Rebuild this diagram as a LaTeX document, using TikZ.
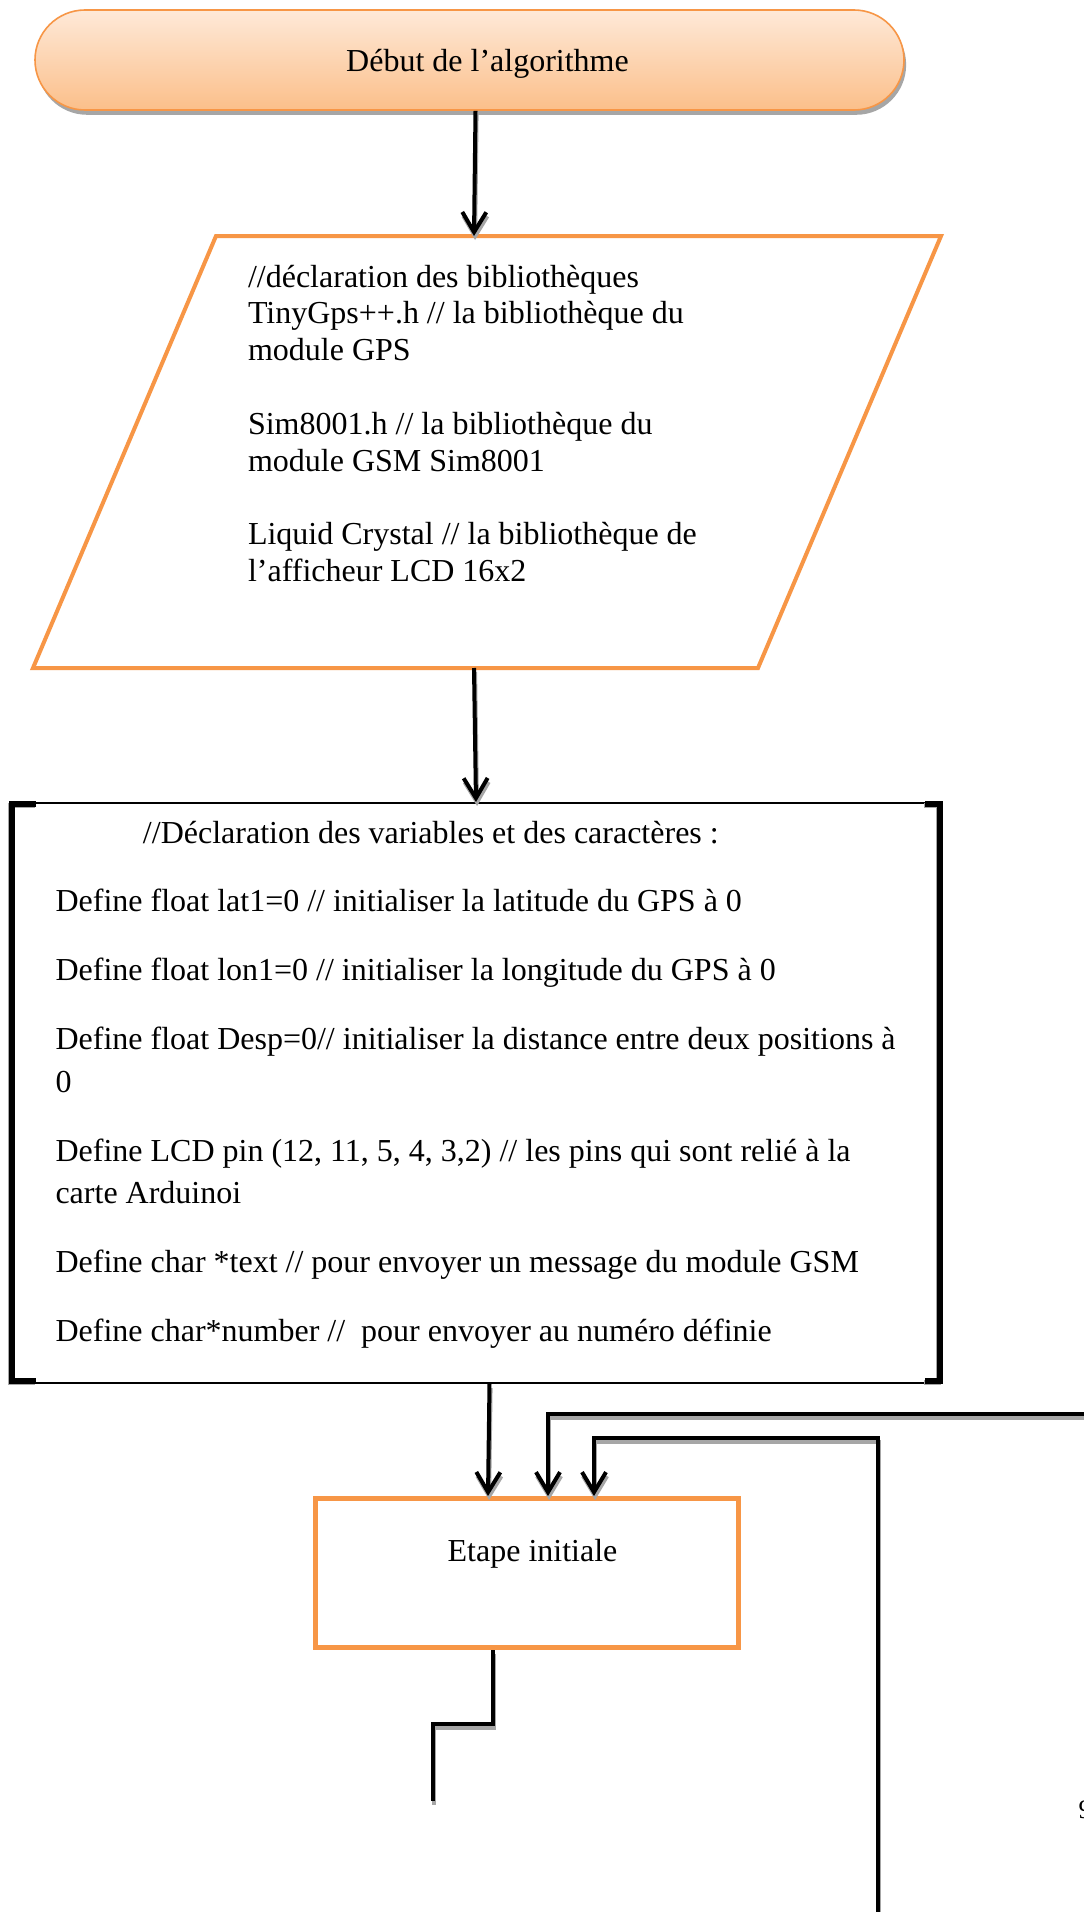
\documentclass[tikz,border=0pt]{standalone}
\usepackage{fontspec}
\setmainfont{Liberation Serif}
\usetikzlibrary{arrows.meta,shadows}

\definecolor{accorange}{HTML}{F79646}
\definecolor{peachtop}{HTML}{FEE9D8}
\definecolor{peachbot}{HTML}{FBBF8A}
\definecolor{shgray}{HTML}{A6A6A6}

\tikzset{
  body/.style={font=\fontsize{12pt}{13.8pt}\selectfont, inner sep=0pt},
  conn/.style={line width=1.5pt, draw=black,
    preaction={draw=shgray, line width=1.5pt, transform canvas={shift={(0.4pt,-1.5pt)}}}},
  arrowed/.style={-{Straight Barb[length=7.5pt,width=9pt]}},
  orangebox/.style={draw=accorange, inner sep=0pt},
  bracket/.style={line width=1.9pt, line join=miter},
}

\begin{document}
\begin{tikzpicture}[x=0.375pt, y=-0.375pt]
\fill[white] (0,0) rectangle (1084,1912);
\useasboundingbox (0,0) rectangle (1084,1912);

% start terminal
\node[orangebox, line width=0.6pt, top color=peachtop, bottom color=peachbot,
      rounded corners=18.75pt, minimum width=325.875pt, minimum height=37.5pt,
      drop shadow={shadow xshift=0.8pt, shadow yshift=-1.8pt, fill=shgray, opacity=1}]
      (start) at (469.5,60) {};
\node[body, anchor=base] (starttxt) at (487.5,72) {Début de l’algorithme};

% libraries (input/output parallelogram)
\draw[accorange, line width=1.5pt, line join=miter]
  (216,236) -- (941,236) -- (758,668) -- (33,668) -- cycle;
\coordinate (libin) at (474,236);
\coordinate (libout) at (474,668);
\node[body, anchor=base west] (libtxt) at (247.5,287) {\vtop{\baselineskip=13.8pt
  \hbox{//déclaration des bibliothèques}
  \hbox{TinyGps++.h // la bibliothèque du}
  \hbox{module GPS}
  \hbox{}
  \hbox{Sim8001.h // la bibliothèque du}
  \hbox{module GSM Sim8001}
  \hbox{}
  \hbox{Liquid Crystal // la bibliothèque de}
  \hbox{l’afficheur LCD 16x2}}};

% declarations box with bracket sides
\node[draw=black, line width=0.75pt, minimum width=349.5pt, minimum height=217.5pt, inner sep=0pt]
  (decl) at (476,1093) {};
\begin{scope}[transform canvas={shift={(-0.4pt,-0.4pt)}}]
  \draw[bracket, shgray] (36,804) -- (12,804) -- (12,1381) -- (36,1381);
  \draw[bracket, shgray] (925,804) -- (940,804) -- (940,1381) -- (925,1381);
\end{scope}
\draw[bracket] (36,804) -- (12,804) -- (12,1381) -- (36,1381);
\draw[bracket] (925,804) -- (940,804) -- (940,1381) -- (925,1381);
\node[body, anchor=base west] (decltxt) at (55,843) {\vtop{\baselineskip=15.87pt
  \hbox{\hskip32.8pt//Déclaration des variables et des caractères :}\vskip10pt
  \hbox{Define float lat1=0 // initialiser la latitude du GPS à 0}\vskip10pt
  \hbox{Define float lon1=0 // initialiser la longitude du GPS à 0}\vskip10pt
  \hbox{Define float Desp=0// initialiser la distance entre deux positions à}
  \hbox{0}\vskip10pt
  \hbox{Define LCD pin (12, 11, 5, 4, 3,2) // les pins qui sont relié à la}
  \hbox{carte Arduinoi}\vskip10pt
  \hbox{Define char *text // pour envoyer un message du module GSM}\vskip10pt
  \hbox{Define char*number // \ pour envoyer au numéro définie}}};

% initial step
\node[orangebox, line width=1.875pt, minimum width=158.625pt, minimum height=55.875pt]
  (etape) at (527,1573) {};
\node[body, anchor=base] (etapetxt) at (532.5,1561) {Etape initiale};

% loose ends of the loop-back lines and the outgoing line
\coordinate (in4) at (1092,1414);
\coordinate (in5) at (878,1922);
\coordinate (turn5) at (878,1438);
\coordinate (stairend) at (433,1801);

% connectors
\draw[conn, arrowed] ([xshift=2.25pt]start.south) -- (libin);
\draw[conn, arrowed] (libout) -- (decl.north);
\draw[conn, arrowed] ([xshift=5.06pt]decl.south) -- ([xshift=-14.625pt]etape.north);
\draw[conn, arrowed] (in4) -| ([xshift=7.875pt]etape.north);
\draw[conn, arrowed] (in5) -- (turn5) -| ([xshift=25.125pt]etape.north);
\draw[conn] ([xshift=-12.75pt]etape.south) -- ++(0,74) -| (stairend);

% page number at the margin
\node[font=\fontsize{10pt}{12pt}\selectfont, inner sep=0pt, anchor=base west]
  (pagenum) at (1078,1818) {9};
\end{tikzpicture}
\end{document}
